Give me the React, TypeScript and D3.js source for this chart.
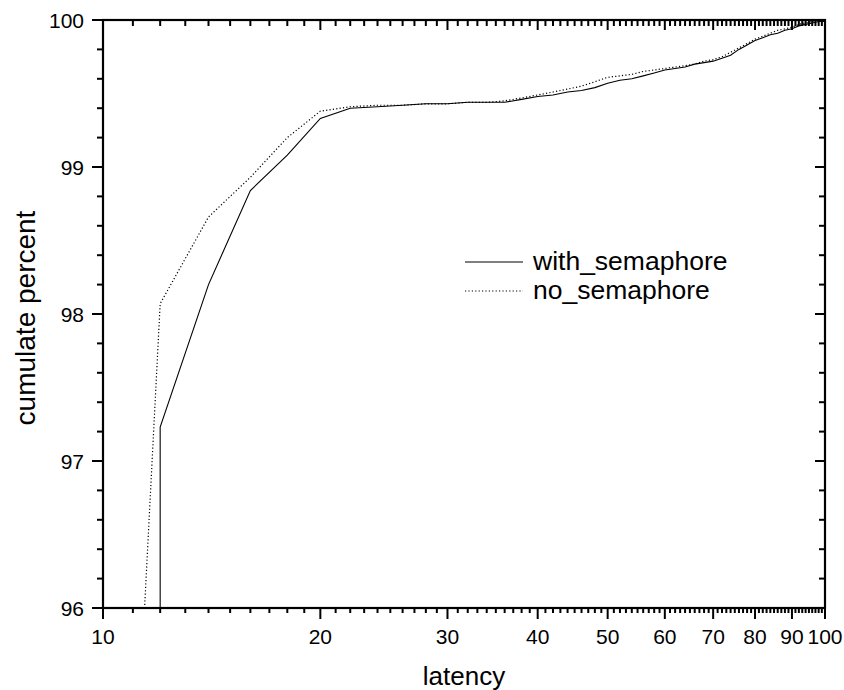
import React from "react";
import * as d3 from "d3";

const withSemX = [12, 12, 14, 16, 18, 20, 22, 24, 26, 28, 30, 32, 34, 36, 38, 40, 42, 44, 46, 48, 50, 52, 54, 56, 58, 60, 62, 64, 66, 68, 70, 72, 74, 76, 78, 80, 82, 84, 86, 88, 90, 92, 94, 96, 98, 100];
const withSemY = [95.0, 97.23, 98.2, 98.84, 99.08, 99.33, 99.4, 99.41, 99.42, 99.43, 99.43, 99.44, 99.44, 99.44, 99.46, 99.48, 99.49, 99.51, 99.52, 99.54, 99.57, 99.59, 99.6, 99.62, 99.64, 99.66, 99.67, 99.68, 99.7, 99.71, 99.72, 99.74, 99.76, 99.8, 99.83, 99.86, 99.88, 99.9, 99.91, 99.93, 99.94, 99.96, 99.97, 99.98, 99.99, 99.99];

const noSemX = [11, 12, 14, 16, 18, 20, 22, 24, 26, 28, 30, 32, 34, 36, 38, 40, 42, 44, 46, 48, 50, 52, 54, 56, 58, 60, 62, 64, 66, 68, 70, 72, 74, 76, 78, 80, 82, 84, 86, 88, 90, 92, 94, 96, 98, 100];
const noSemY = [94.45, 98.07, 98.66, 98.93, 99.2, 99.38, 99.41, 99.42, 99.42, 99.43, 99.43, 99.44, 99.44, 99.45, 99.47, 99.49, 99.51, 99.53, 99.55, 99.58, 99.61, 99.62, 99.63, 99.65, 99.66, 99.67, 99.68, 99.69, 99.7, 99.72, 99.73, 99.75, 99.78, 99.81, 99.84, 99.87, 99.89, 99.91, 99.93, 99.94, 99.95, 99.97, 99.98, 99.99, 100, 100];

const xTickLabels = [10, 20, 30, 40, 50, 60, 70, 80, 90, 100];
const yTickLabels = [96, 97, 98, 99, 100];
const seriesNames = ["with_semaphore", "no_semaphore"];

const W = 844;
const H = 690;
const M = { left: 103, right: 825, top: 20, bottom: 608 };
const FONT = "Arial, 'Liberation Sans', Helvetica, sans-serif";

export default function App() {
  const x = d3.scaleLog().domain([10, 100]).range([M.left, M.right]);
  const y = d3.scaleLinear().domain([96, 100]).range([M.bottom, M.top]);

  const minorX = d3.range(11, 100).filter((v) => v % 10 !== 0);
  const minorY = d3
    .range(96, 100, 0.2)
    .map((v) => +v.toFixed(1))
    .filter((v) => Math.abs(v - Math.round(v)) > 1e-6);

  const line = d3
    .line<[number, number]>()
    .x((d) => x(d[0]))
    .y((d) => y(d[1]));

  const solidPts = withSemX.map((v, i) => [v, withSemY[i]] as [number, number]);
  const dotPts = noSemX.map((v, i) => [v, noSemY[i]] as [number, number]);

  const majLen = 10;
  const minLen = 6;
  const tw = 2;

  return (
    <svg
      width={W}
      height={H}
      style={{ position: "absolute", left: 0, top: 0, background: "#fff" }}
      fontFamily={FONT}
    >
      <defs>
        <clipPath id="plotclip">
          <rect x={M.left} y={M.top} width={M.right - M.left} height={M.bottom - M.top} />
        </clipPath>
      </defs>
      <rect x={0} y={0} width={W} height={H} fill="#fff" />

      <g clipPath="url(#plotclip)">
        <path d={line(solidPts) || ""} fill="none" stroke="#000" strokeWidth={1.1} />
        <path d={line(dotPts) || ""} fill="none" stroke="#000" strokeWidth={1.2} strokeDasharray="1.2 2.2" />
      </g>

      {xTickLabels.map((v) => (
        <line key={"bx" + v} x1={x(v)} x2={x(v)} y1={M.bottom} y2={M.bottom + majLen + 1} stroke="#000" strokeWidth={tw} />
      ))}
      {minorX.map((v) => (
        <line key={"bm" + v} x1={x(v)} x2={x(v)} y1={M.bottom} y2={M.bottom + minLen - 1} stroke="#000" strokeWidth={tw} />
      ))}
      {xTickLabels.map((v) => (
        <line key={"tx" + v} x1={x(v)} x2={x(v)} y1={M.top} y2={M.top + majLen} stroke="#000" strokeWidth={tw} />
      ))}
      {minorX.map((v) => (
        <line key={"tm" + v} x1={x(v)} x2={x(v)} y1={M.top} y2={M.top + minLen} stroke="#000" strokeWidth={tw} />
      ))}
      {yTickLabels.map((v) => (
        <line key={"ly" + v} x1={M.left - majLen - 1} x2={M.left} y1={y(v)} y2={y(v)} stroke="#000" strokeWidth={tw} />
      ))}
      {minorY.map((v) => (
        <line key={"lm" + v} x1={M.left - minLen} x2={M.left} y1={y(v)} y2={y(v)} stroke="#000" strokeWidth={tw} />
      ))}
      {yTickLabels.map((v) => (
        <line key={"ry" + v} x1={M.right - majLen} x2={M.right} y1={y(v)} y2={y(v)} stroke="#000" strokeWidth={tw} />
      ))}
      {minorY.map((v) => (
        <line key={"rm" + v} x1={M.right - minLen} x2={M.right} y1={y(v)} y2={y(v)} stroke="#000" strokeWidth={tw} />
      ))}

      <rect
        x={M.left}
        y={M.top}
        width={M.right - M.left}
        height={M.bottom - M.top}
        fill="none"
        stroke="#000"
        strokeWidth={2.2}
      />

      {xTickLabels.map((v) => (
        <text key={"xl" + v} x={x(v)} y={M.bottom + 36} textAnchor="middle" fontSize={21} fill="#000">
          {v}
        </text>
      ))}
      {yTickLabels.map((v) => (
        <text key={"yl" + v} x={M.left - 19} y={y(v) + 7.5} textAnchor="end" fontSize={21} fill="#000">
          {v}
        </text>
      ))}

      <text x={(M.left + M.right) / 2} y={685} textAnchor="middle" fontSize={26} fill="#000">
        latency
      </text>
      <text
        transform={`translate(35, ${(M.top + M.bottom) / 2 + 4}) rotate(-90)`}
        textAnchor="middle"
        fontSize={28}
        fill="#000"
      >
        cumulate percent
      </text>

      <g>
        <line x1={465} x2={523} y1={262} y2={262} stroke="#000" strokeWidth={1.1} />
        <text x={533} y={270} fontSize={26.5} fill="#000">
          {seriesNames[0]}
        </text>
        <line x1={465} x2={523} y1={291} y2={291} stroke="#000" strokeWidth={1.2} strokeDasharray="1.2 2.2" />
        <text x={533} y={299} fontSize={26.5} fill="#000">
          {seriesNames[1]}
        </text>
      </g>
    </svg>
  );
}
